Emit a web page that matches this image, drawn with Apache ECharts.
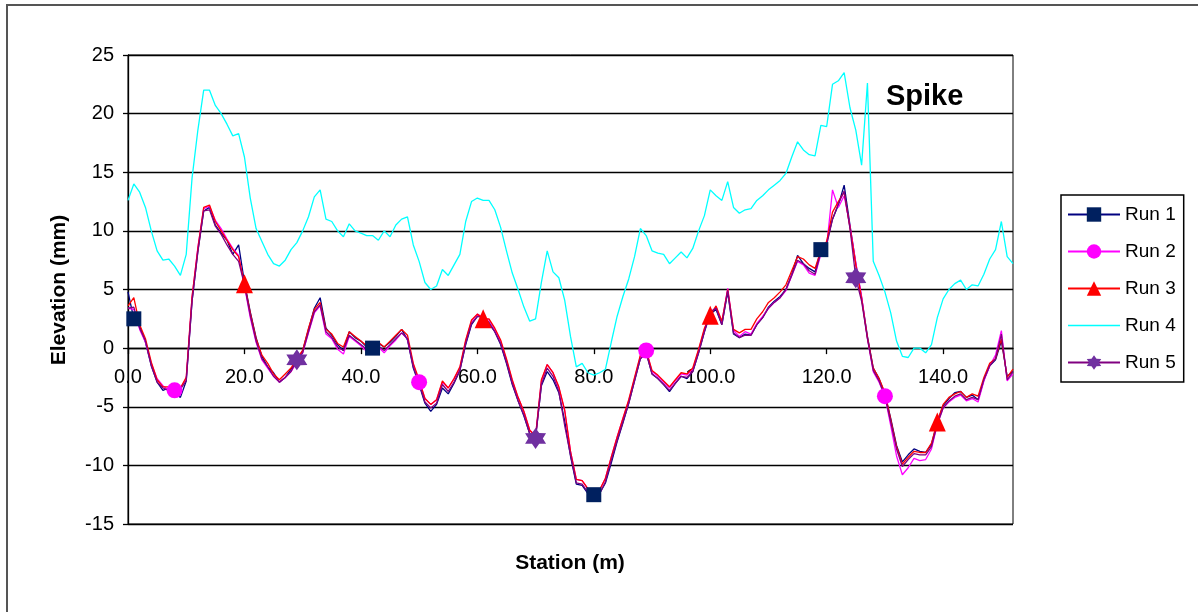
<!DOCTYPE html>
<html>
<head>
<meta charset="utf-8">
<script src="https://cdn.jsdelivr.net/npm/echarts@6/dist/echarts.min.js"></script>
<style>
html,body{margin:0;padding:0;background:#fff;}
#chart{width:1198px;height:612px;}
</style>
</head>
<body>
<div id="chart"></div>
<script>
// Stations (m)
const stations = [
0,1,2,3,4,5,6,7,8,9,10,11,12,13,14,15,16,17,18,19,
20,21,22,23,24,25,26,27,28,29,30,31,32,33,34,35,36,37,38,39,
40,41,42,43,44,45,46,47,48,49,50,51,52,53,54,55,56,57,58,59,
60,61,62,63,64,65,66,67,68,69,70,71,72,73,74,75,76,77,78,79,
80,81,82,83,84,85,86,87,88,89,90,91,92,93,94,95,96,97,98,99,
100,101,102,103,104,105,106,107,108,109,110,111,112,113,114,115,116,117,118,119,
120,121,122,123,124,125,126,127,128,129,130,131,132,133,134,135,136,137,138,139,
140,141,142,143,144,145,146,147,148,149,150,151,152];

const run1 = [
4.8,2.5,1.9,0.5,-1.5,-2.9,-3.6,-3.4,-3.8,-4.2,
-2.8,4.0,8.3,11.7,12.0,10.5,9.8,9.2,8.0,8.8,
5.6,3.1,0.9,-0.7,-1.6,-2.1,-2.9,-2.5,-1.8,-1.1,
-0.2,1.6,3.4,4.3,1.7,1.1,0.3,-0.2,1.4,0.9,
0.6,0.1,0.0,0.4,0.1,0.5,1.0,1.6,0.7,-1.7,
-3.1,-4.7,-5.4,-4.8,-3.4,-3.9,-3.0,-1.9,0.3,2.0,
2.7,2.7,2.1,1.4,0.3,-1.3,-3.1,-4.5,-5.8,-7.3,
-7.6,-3.2,-2.0,-2.7,-3.8,-6.2,-9.2,-11.6,-11.7,-12.4,
-12.5,-12.4,-11.5,-9.8,-8.0,-6.4,-4.7,-2.8,-0.9,-0.4,
-2.2,-2.6,-3.1,-3.7,-3.0,-2.4,-2.6,-2.0,-0.4,1.4,
2.9,3.3,2.0,4.8,1.2,0.9,1.2,1.1,2.0,2.6,
3.5,4.0,4.4,5.0,6.3,7.9,7.2,6.8,6.5,8.4,
9.0,11.0,12.2,13.9,10.5,7.2,4.3,1.0,-1.7,-2.6,
-3.9,-6.0,-8.3,-9.7,-9.1,-8.6,-8.8,-8.9,-8.2,-6.3,
-4.9,-4.3,-3.8,-3.7,-4.2,-4.0,-4.4,-2.7,-1.5,-1.0,
0.6,-2.4,-2.0];

const run2 = [
3.4,3.3,1.6,0.5,-1.3,-2.6,-3.2,-3.6,-3.6,-3.4,
-2.6,4.3,8.6,11.9,12.1,10.9,10.2,9.3,8.5,7.9,
5.3,2.6,0.5,-1.0,-1.7,-2.4,-2.9,-2.5,-2.0,-1.2,
-0.4,1.3,3.0,3.6,1.2,0.8,-0.1,-0.5,1.0,0.6,
0.2,-0.3,-0.2,0.1,-0.4,0.2,0.7,1.3,0.8,-1.4,
-2.9,-4.3,-4.8,-4.4,-2.9,-3.4,-2.6,-1.7,0.6,2.3,
2.9,2.6,2.4,1.6,0.6,-1.0,-2.8,-4.2,-5.4,-7.0,
-7.5,-2.8,-1.4,-2.1,-3.4,-5.3,-8.8,-11.2,-11.3,-12.0,
-12.3,-12.1,-11.1,-9.3,-7.6,-6.0,-4.5,-2.6,-0.7,-0.2,
-2.0,-2.4,-2.9,-3.4,-2.8,-2.2,-2.3,-1.8,-0.2,1.6,
3.0,3.5,2.2,5.1,1.5,1.0,1.4,1.2,2.1,2.7,
3.4,3.9,4.3,4.9,6.2,7.4,7.1,6.4,6.2,8.0,
8.7,13.5,12.0,13.0,10.4,7.3,4.4,0.8,-2.0,-2.9,
-4.1,-6.6,-9.2,-10.8,-10.2,-9.4,-9.6,-9.5,-8.6,-6.5,
-5.1,-4.6,-4.2,-4.0,-4.5,-4.3,-4.6,-2.8,-1.5,-0.6,
1.5,-2.8,-2.2];

const run3 = [
3.6,4.3,2.0,0.8,-1.2,-2.7,-3.3,-3.3,-3.5,-3.4,
-2.5,4.4,8.5,12.0,12.2,10.8,10.0,9.2,8.4,7.8,
5.5,3.0,0.8,-0.6,-1.3,-2.2,-2.7,-2.2,-1.7,-0.9,
-0.2,1.7,3.3,3.9,1.6,1.2,0.4,0.1,1.4,1.0,
0.6,0.2,0.2,0.5,0.1,0.6,1.1,1.6,1.1,-1.3,
-2.7,-4.3,-4.8,-4.4,-2.8,-3.4,-2.6,-1.6,0.7,2.4,
2.9,2.5,2.5,1.7,0.7,-0.9,-2.7,-4.2,-5.4,-7.0,
-7.5,-2.7,-1.4,-2.1,-3.3,-5.3,-8.8,-11.2,-11.3,-12.0,
-12.3,-12.1,-11.1,-9.3,-7.6,-6.0,-4.4,-2.5,-0.6,-0.2,
-1.9,-2.3,-2.8,-3.3,-2.7,-2.1,-2.2,-1.7,-0.1,1.7,
2.8,3.6,2.3,5.0,1.6,1.3,1.6,1.6,2.5,3.1,
3.9,4.3,4.8,5.4,6.6,7.8,7.6,7.1,6.8,8.3,
9.1,11.6,12.5,13.3,10.3,7.1,4.2,0.9,-1.7,-2.6,
-3.8,-6.1,-8.4,-9.9,-9.3,-8.8,-8.9,-8.9,-8.1,-6.3,
-4.8,-4.2,-3.9,-3.7,-4.2,-3.9,-4.1,-2.5,-1.3,-0.9,
0.8,-2.5,-1.8];

const run4 = [
12.6,14.0,13.3,12.0,10.0,8.3,7.5,7.6,7.0,6.2,
8.0,14.5,18.6,22.0,22.0,20.7,20.0,19.1,18.1,18.3,
16.3,12.8,10.2,9.1,8.0,7.2,7.0,7.5,8.4,9.0,
10.0,11.2,12.9,13.5,11.0,10.8,10.0,9.5,10.6,10.0,
9.8,9.6,9.6,9.2,10.0,9.5,10.5,11.0,11.2,8.8,
7.4,5.6,5.0,5.3,6.7,6.2,7.1,8.0,10.8,12.5,
12.8,12.6,12.6,11.8,10.3,8.3,6.4,5.0,3.5,2.3,
2.5,5.6,8.3,6.5,6.0,4.1,1.0,-1.6,-1.3,-2.1,
-2.3,-2.1,-1.8,0.5,2.7,4.4,5.9,7.8,10.2,9.6,
8.3,8.1,8.0,7.2,7.7,8.2,7.7,8.5,10.0,11.3,
13.5,13.0,12.6,14.2,12.0,11.5,11.8,11.9,12.6,13.0,
13.5,13.9,14.3,14.9,16.3,17.6,16.9,16.5,16.4,19.0,
18.9,22.5,22.8,23.5,20.5,18.6,15.6,22.6,7.4,6.2,
4.8,3.0,0.6,-0.7,-0.8,0.0,0.0,-0.4,0.3,2.6,
4.2,5.0,5.5,5.8,5.0,5.4,5.3,6.3,7.6,8.4,
10.8,7.8,7.2];

const run5 = [
3.4,3.5,1.7,0.6,-1.5,-2.9,-3.4,-3.6,-3.7,-3.5,
-2.8,4.0,8.2,11.7,11.8,10.4,9.7,8.8,8.0,7.4,
5.4,2.8,0.6,-0.9,-1.6,-2.4,-2.9,-2.5,-2.0,-1.0,
-0.4,1.4,3.1,3.7,1.4,0.9,0.1,-0.2,1.1,0.7,
0.3,-0.1,-0.1,0.2,-0.2,0.3,0.8,1.3,0.8,-1.6,
-3.0,-4.6,-5.1,-4.7,-3.1,-3.7,-2.9,-1.9,0.4,2.1,
2.7,2.6,2.2,1.4,0.4,-1.2,-3.0,-4.5,-5.7,-7.3,
-7.7,-3.1,-1.7,-2.4,-3.7,-6.6,-9.1,-11.5,-11.6,-12.3,
-12.6,-12.4,-11.4,-9.6,-7.9,-6.3,-4.7,-2.8,-0.9,-0.4,
-2.2,-2.6,-3.1,-3.6,-3.0,-2.4,-2.5,-2.0,-0.4,1.4,
3.1,3.4,2.0,4.9,1.3,0.9,1.1,1.1,2.0,2.6,
3.4,3.9,4.3,5.0,6.2,7.5,7.2,6.6,6.3,8.2,
8.8,11.0,12.3,13.4,10.2,6.0,4.0,0.8,-1.9,-2.8,
-4.1,-6.3,-8.6,-10.1,-9.5,-9.0,-9.1,-9.1,-8.4,-6.5,
-5.1,-4.5,-4.1,-3.9,-4.4,-4.2,-4.4,-2.7,-1.5,-0.9,
1.2,-2.7,-2.0];

// Stations (index) where each run shows its marker
const run1Marks = [1, 42, 80, 119];
const run2Marks = [8, 50, 89, 130];
const run3Marks = [20, 61, 100, 139];
const run4Marks = [];
const run5Marks = [29, 70, 125];

const seriesNames = ['Run 1', 'Run 2', 'Run 3', 'Run 4', 'Run 5'];
const yTicks = [-15, -10, -5, 0, 5, 10, 15, 20, 25];

const starPath = 'path://M10 0 L13 4.8 L18.66 5 L16 10 L18.66 15 L13 15.2 L10 20 L7 15.2 L1.34 15 L4 10 L1.34 5 L7 4.8 Z';
// legend icon for the marker-less Run 4: a plain horizontal line
const lineIcon = 'path://M0 8.3 L52 8.3 L52 9.7 L0 9.7 Z M0 0 L0.01 0 L0 0.01 Z M52 18 L51.99 18 L52 17.99 Z';

function buildData(values, marks) {
  return values.map(function (v, i) {
    const item = { value: [stations[i], v] };
    if (marks.indexOf(i) < 0) item.symbol = 'none';
    return item;
  });
}

const styles = [
  { line: '#000080', mark: '#00205F', symbol: 'rect', size: 15 },
  { line: '#FF00FF', mark: '#FF00FF', symbol: 'circle', size: 16 },
  { line: '#FF0000', mark: '#FF0000', symbol: 'triangle', size: [17, 19] },
  { line: '#00FFFF', mark: '#00FFFF', symbol: 'none', size: 0 },
  { line: '#800080', mark: '#7030A0', symbol: starPath, size: 21 }
];
const allRuns = [run1, run2, run3, run4, run5];
const allMarks = [run1Marks, run2Marks, run3Marks, run4Marks, run5Marks];

const series = allRuns.map(function (vals, k) {
  const st = styles[k];
  return {
    name: seriesNames[k],
    type: 'line',
    data: buildData(vals, allMarks[k]),
    symbol: st.symbol,
    symbolSize: st.size,
    showSymbol: true,
    showAllSymbol: true,
    animation: false,
    lineStyle: { color: st.line, width: 1.3 },
    itemStyle: { color: st.mark, borderWidth: 0 },
    emphasis: { disabled: true }
  };
});

// plot area geometry (pixels) used only for placing the x axis at the zero line
const gridTop = 55, gridBottom = 88, chartH = 612;
const plotH = chartH - gridTop - gridBottom;
const zeroOffset = -plotH * (0 - yTicks[0]) / (yTicks[yTicks.length - 1] - yTicks[0]);

const font = 'Liberation Sans, Arial, sans-serif';
const chart = echarts.init(document.getElementById('chart'), null, { renderer: 'canvas' });
chart.setOption({
  backgroundColor: '#ffffff',
  animation: false,
  grid: {
    left: 128, right: 185, top: gridTop, bottom: gridBottom,
    show: true, borderColor: '#000', borderWidth: 1, backgroundColor: 'transparent'
  },
  xAxis: {
    type: 'value',
    min: 0, max: 152, interval: 20,
    position: 'bottom',
    offset: zeroOffset,
    axisLine: { onZero: false, lineStyle: { color: '#000', width: 1.3 } },
    axisTick: { show: true, inside: false, length: 6, lineStyle: { color: '#000', width: 1.3 } },
    axisLabel: {
      color: '#000', fontFamily: font, fontSize: 20, margin: 19,
      showMaxLabel: false,
      formatter: function (v) { return v.toFixed(1); }
    },
    splitLine: { show: false }
  },
  yAxis: {
    type: 'value',
    min: yTicks[0], max: yTicks[yTicks.length - 1], interval: 5,
    axisLine: { show: true, onZero: false, lineStyle: { color: '#000', width: 1.3 } },
    axisTick: { show: true, length: 5, lineStyle: { color: '#000', width: 1.3 } },
    axisLabel: { color: '#000', fontFamily: font, fontSize: 20, margin: 14 },
    splitLine: { show: true, lineStyle: { color: '#000', width: 1.3 } }
  },
  legend: {
    orient: 'vertical',
    left: 1061, top: 195,
    padding: [10, 8, 10, 6],
    itemWidth: 52, itemHeight: 18, itemGap: 18,
    borderColor: '#000', borderWidth: 1.5,
    backgroundColor: '#fff',
    textStyle: { color: '#000', fontFamily: font, fontSize: 19, lineHeight: 18 },
    data: [
      seriesNames[0], seriesNames[1], seriesNames[2],
      { name: seriesNames[3], icon: lineIcon },
      seriesNames[4]
    ]
  },
  graphic: [
    { type: 'rect', shape: { x: 7, y: 5, width: 1300, height: 700 },
      style: { fill: 'none', stroke: '#555', lineWidth: 2 }, silent: true },
    { type: 'text', x: 886, y: 97,
      style: { text: 'Spike', fill: '#000', font: 'bold 29px ' + font, textVerticalAlign: 'middle', textAlign: 'left' } },
    { type: 'text', x: 570, y: 563,
      style: { text: 'Station (m)', fill: '#000', font: 'bold 21px ' + font, textVerticalAlign: 'middle', textAlign: 'center' } },
    { type: 'text', x: 59, y: 290, rotation: Math.PI / 2,
      style: { text: 'Elevation (mm)', fill: '#000', font: 'bold 21px ' + font, textVerticalAlign: 'middle', textAlign: 'center' } }
  ],
  series: series
});
</script>
</body>
</html>
